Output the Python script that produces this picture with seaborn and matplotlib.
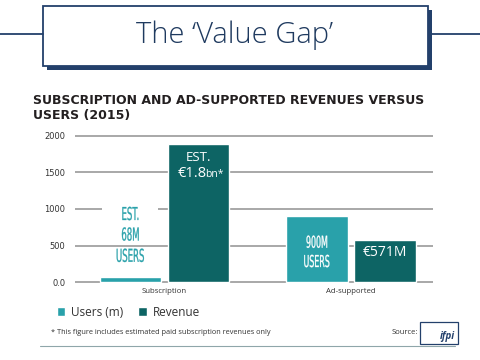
import numpy as np
import pandas as pd
import matplotlib
matplotlib.use("Agg")
import matplotlib.pyplot as plt
import seaborn as sns
from matplotlib.patches import Rectangle, PathPatch
from matplotlib.lines import Line2D
from matplotlib.textpath import TextPath
from matplotlib.font_manager import FontProperties
from matplotlib.transforms import Affine2D

# ----- Data -----
categories = ["Subscription", "Ad-supported"]
series = ["Users (m)", "Revenue"]
users = [68, 900]
revenue = [1880, 571]
ytick_vals = [0, 500, 1000, 1500, 2000]
ytick_labels = ["0.0", "500", "1000", "1500", "2000"]

df = pd.DataFrame({
    "category": categories * 2,
    "series": [series[0]] * 2 + [series[1]] * 2,
    "value": users + revenue,
})

teal = "#29a1aa"
dark_teal = "#0d6464"
navy = "#23406b"

sns.set_theme(style="white")
plt.rcParams["font.family"] = ["Open Sans", "DejaVu Sans"]

fig = plt.figure(figsize=(4.8, 3.6), dpi=100)
ax = fig.add_axes([75 / 480, 1 - 283.8 / 360, 358 / 480, 149.6 / 360])

sns.barplot(data=df, x="category", y="value", hue="series",
            palette=[teal, dark_teal], width=0.733, gap=0.1,
            saturation=1, ax=ax, zorder=2)

ax.set_xlim(-0.48, 1.44)
ax.set_ylim(-20, 2020)
ax.set_yticks(ytick_vals)
ax.set_yticklabels(ytick_labels, fontsize=6, color="#333333",
                   family="DejaVu Sans")
ax.tick_params(axis="x", labelsize=5.6, colors="#333333", length=0, pad=3)
ax.tick_params(axis="y", length=0, pad=7)
ax.set_xlabel("")
ax.set_ylabel("")
for s in ax.spines.values():
    s.set_visible(False)
ax.yaxis.grid(True, color="#9a9a9a", linewidth=1.2)
ax.set_axisbelow(True)

# legend
handles, labels = ax.get_legend_handles_labels()
ax.get_legend().remove()
fig.legend(handles, labels, loc="center left",
           bbox_to_anchor=(46 / 480, 1 - 312 / 360), ncol=2, frameon=False,
           handlelength=0.75, handleheight=0.75, handletextpad=0.5,
           columnspacing=1.2, fontsize=8.5, labelcolor="#333333")


# condensed lettering drawn as scaled text outlines
def narrow_text(x, y, s, color, cap=13, sx=0.48, box_w=0):
    prop = FontProperties(family="DejaVu Sans")
    size = cap / 0.73
    tp = TextPath((0, 0), s, size=size, prop=prop)
    ext = tp.get_extents()
    px, py = ax.transData.transform((x, y))
    tr = Affine2D().translate(-ext.x0 - ext.width / 2, 0).scale(sx, 1) \
        .translate(px, py)
    if box_w:
        fig.add_artist(Rectangle((px - box_w / 2, py - 3), box_w, cap + 6,
                                 transform=None, facecolor="white",
                                 edgecolor="none", zorder=2.5))
    fig.add_artist(PathPatch(tp, transform=tr, facecolor=color,
                             edgecolor=color, linewidth=0.2, zorder=3))


off = 0.733 / 4
fig.canvas.draw()
narrow_text(0 - off, 850, "EST.", teal, box_w=56)
narrow_text(0 - off, 570, "68M", teal)
narrow_text(0 - off, 280, "USERS", teal)
narrow_text(1 - off, 472, "900M", "white", cap=12)
narrow_text(1 - off, 209, "USERS", "white", cap=12)

ax.text(0 + off, revenue[0] - 221, "EST.", ha="center", va="baseline",
        color="white", fontsize=9.5, zorder=3)
ax.text(0 + off + 0.043, revenue[0] - 444, "€1.8", ha="right", va="baseline",
        color="white", fontsize=10.5, zorder=3)
ax.text(0 + off + 0.037, revenue[0] - 444, "bn*", ha="left", va="baseline",
        color="white", fontsize=7.5, zorder=3)
ax.text(1 + off, revenue[1] - 212, "€571M", ha="center", va="baseline",
        color="white", fontsize=10, zorder=3)

# title box
fig.add_artist(Rectangle((47 / 480, 1 - 70 / 360), 385 / 480, 60 / 360,
                         transform=fig.transFigure, facecolor=navy,
                         edgecolor="none", zorder=1))
fig.add_artist(Rectangle((43 / 480, 1 - 66 / 360), 385 / 480, 60 / 360,
                         transform=fig.transFigure, facecolor="white",
                         edgecolor=navy, linewidth=1.3, zorder=2))
fig.add_artist(Line2D([0, 43 / 480], [1 - 34 / 360] * 2, color=navy,
                      linewidth=1.3, transform=fig.transFigure))
fig.add_artist(Line2D([432 / 480, 1], [1 - 34 / 360] * 2, color=navy,
                      linewidth=1.3, transform=fig.transFigure))
fig.text(235 / 480, 1 - 35 / 360, "The \u2018Value Gap\u2019", ha="center",
         va="center", fontsize=21, color="#1f3a5f", weight="light", zorder=3)

fig.text(33 / 480, 1 - 94 / 360,
         "SUBSCRIPTION AND AD-SUPPORTED REVENUES VERSUS\nUSERS (2015)",
         ha="left", va="top", fontsize=9, weight="bold", color="#231f20",
         family="DejaVu Sans", linespacing=1.25)

# footer
fig.text(51 / 480, 1 - 332 / 360,
         "* This figure includes estimated paid subscription revenues only",
         ha="left", va="center", fontsize=5.3, color="#333333")
fig.text(418 / 480, 1 - 333 / 360, "Source:", ha="right", va="center",
         fontsize=5.5, color="#333333")
fig.add_artist(Rectangle((420 / 480, 1 - 344 / 360), 38 / 480, 22 / 360,
                         transform=fig.transFigure, facecolor="white",
                         edgecolor=navy, linewidth=0.9))
fig.text(455 / 480, 1 - 336 / 360, "ifpi", ha="right", va="center",
         fontsize=7, style="italic", weight="bold", color=navy)
fig.add_artist(Line2D([40 / 480, 455 / 480], [1 - 346 / 360] * 2,
                      color="#8fa6aa", linewidth=0.8,
                      transform=fig.transFigure))

fig.savefig("out.png", dpi=100)
